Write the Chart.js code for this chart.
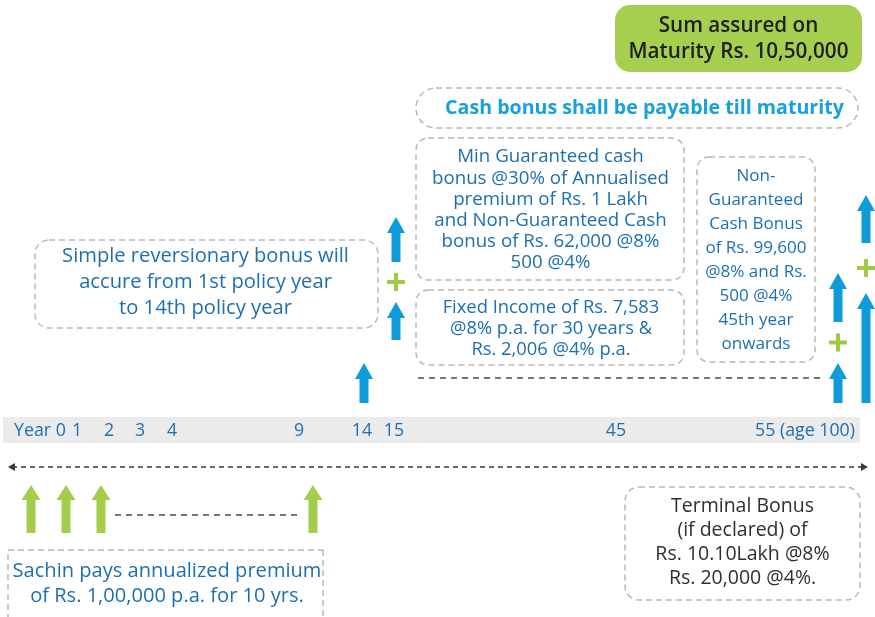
<!DOCTYPE html>
<html>
<head>
<meta charset="utf-8">
<script src="https://cdn.jsdelivr.net/npm/chart.js@4.4.0/dist/chart.umd.min.js"></script>
<style>
  html, body { margin: 0; padding: 0; background: #ffffff; }
  #wrap { width: 875px; height: 617px; position: relative; }
</style>
</head>
<body>
<div id="wrap"><canvas id="c" width="875" height="617"></canvas></div>
<script>
// ---------------- DATA ----------------
// Timeline tick labels (policy years)
const tickYears  = [0, 1, 2, 3, 4, 9, 14, 15, 45, 55];
const tickLabels = ['Year 0', '1', '2', '3', '4', '9', '14', '15', '45', '55 (age 100)'];

// Premium payments (green arrows), shown for years 0,1,2 ... 9
const premiumYears = [0, 1, 2, 9];
const premiumFrom  = [-11.6, -11.6, -11.6, -11.6];
const premiumTo    = [-6.8, -6.8, -6.8, -6.8];

// Cash benefits (blue arrows, first column)
const cashYears     = [14, 15, 55];
const cashLowerFrom = [1.4, 7.7, 1.4];
const cashLowerTo   = [5.4, 11.5, 5.4];
const cashUpperFrom = [null, 15.5, 9.5];
const cashUpperTo   = [null, 20.0, 14.4];

// Maturity benefits (blue arrows, second column)
const maturityYears     = [55];
const maturityLowerFrom = [1.4];
const maturityLowerTo   = [12.4];
const maturityUpperFrom = [17.4];
const maturityUpperTo   = [22.2];

// Dashed continuation lines
const premiumGapYears = [2, 9];
const premiumGapLevel = [-9.8, -9.8];
const cashRunYears    = [15, 55];
const cashRunLevel    = [3.9, 3.9];

// Text of the call-outs
const sumAssuredText   = ['Sum assured on', 'Maturity Rs. 10,50,000'];
const cashTillText     = ['Cash bonus shall be payable till maturity'];
const minGuarText      = ['Min Guaranteed cash', 'bonus @30% of Annualised', 'premium of Rs. 1 Lakh', 'and Non-Guaranteed Cash', 'bonus of Rs. 62,000 @8%', '500 @4%'];
const fixedIncomeText  = ['Fixed Income of Rs. 7,583', '@8% p.a. for 30 years &', 'Rs. 2,006 @4% p.a.'];
const nonGuarText      = ['Non-', 'Guaranteed', 'Cash Bonus', 'of Rs. 99,600', '@8% and Rs.', '500 @4%', '45th year', 'onwards'];
const reversionaryText = ['Simple reversionary bonus will', 'accure from 1st policy year', 'to 14th policy year'];
const premiumText      = ['Sachin pays annualized premium', 'of Rs. 1,00,000 p.a. for 10 yrs.'];
const terminalText     = ['Terminal Bonus', '(if declared) of', 'Rs. 10.10Lakh @8%', 'Rs. 20,000 @4%.'];

// ---------------- STYLE / LAYOUT ----------------
const BLUE_TEXT = '#1d6fb3';
const CYAN = '#0d9cd9';
const GREEN = '#a5cd4c';
const FONT = '"Open Sans", Roboto, sans-serif';

// font size that makes `text` about `target` px wide
const measureCtx = document.createElement('canvas').getContext('2d');
function fitSize(text, target, weight) {
  measureCtx.font = (weight || 'normal') + ' 20px ' + FONT;
  return 20 * target / measureCtx.measureText(text).width;
}

// piecewise (not-to-scale) time axes: [year, pixel offset inside chart area]
const COLUMN_GAP = 28;
const BREAKS = {
  xt: [[0, 40], [1, 77], [2, 109], [3, 140], [4, 172], [9, 299], [14, 362], [15, 394], [45, 616], [55, 805]],
  x:  [[14, 364], [15, 396], [55, 838]],
  xp: [[0, 31], [1, 66], [2, 101], [9, 313]]
};
BREAKS.xm = BREAKS.x.map(([v, p]) => [v, p + COLUMN_GAP]);

class PiecewiseScale extends Chart.LinearScale {
  getPixelForValue(value) {
    if (value === null || value === undefined || isNaN(value)) return NaN;
    const b = BREAKS[this.id];
    let i = 0;
    while (i < b.length - 2 && value > b[i + 1][0]) i++;
    const [v0, p0] = b[i], [v1, p1] = b[i + 1];
    return this.left + p0 + (value - v0) * (p1 - p0) / (v1 - v0);
  }
  getValueForPixel(pixel) {
    const b = BREAKS[this.id];
    const p = pixel - this.left;
    let i = 0;
    while (i < b.length - 2 && p > b[i + 1][1]) i++;
    const [v0, p0] = b[i], [v1, p1] = b[i + 1];
    return v0 + (p - p0) * (v1 - v0) / (p1 - p0);
  }
}
PiecewiseScale.id = 'piecewise';
PiecewiseScale.defaults = {};
Chart.register(PiecewiseScale);

function ranged(years, from, to) {
  return years.map((x, i) => ({ x: x, y: (from[i] === null ? null : [from[i], to[i]]) }));
}
function pts(years, levels) {
  return years.map((x, i) => ({ x: x, y: levels[i] }));
}

// ---------------- DRAW HELPERS ----------------
function roundRect(ctx, x, y, w, h, r) {
  ctx.beginPath();
  ctx.moveTo(x + r, y);
  ctx.lineTo(x + w - r, y);
  ctx.arcTo(x + w, y, x + w, y + r, r);
  ctx.lineTo(x + w, y + h - r);
  ctx.arcTo(x + w, y + h, x + w - r, y + h, r);
  ctx.lineTo(x + r, y + h);
  ctx.arcTo(x, y + h, x, y + h - r, r);
  ctx.lineTo(x, y + r);
  ctx.arcTo(x, y, x + r, y, r);
  ctx.closePath();
}
function drawArrow(ctx, x, top, bottom, a) {
  ctx.fillStyle = a.color;
  ctx.beginPath();
  ctx.moveTo(x, top);
  ctx.lineTo(x + a.head / 2, top + a.headLen);
  ctx.lineTo(x + a.shaft / 2, top + a.headLen);
  ctx.lineTo(x + a.shaft / 2, bottom);
  ctx.lineTo(x - a.shaft / 2, bottom);
  ctx.lineTo(x - a.shaft / 2, top + a.headLen);
  ctx.lineTo(x - a.head / 2, top + a.headLen);
  ctx.closePath();
  ctx.fill();
}
function drawPlus(ctx, x, y) {
  ctx.save();
  ctx.strokeStyle = '#9fca44';
  ctx.lineWidth = 4;
  ctx.beginPath();
  ctx.moveTo(x - 9, y); ctx.lineTo(x + 9, y);
  ctx.moveTo(x, y - 9); ctx.lineTo(x, y + 9);
  ctx.stroke();
  ctx.restore();
}
function drawLines(ctx, lines, cx, y0, lh, weight, size, color) {
  ctx.save();
  ctx.font = weight + ' ' + size.toFixed(2) + 'px ' + FONT;
  ctx.fillStyle = color;
  ctx.textAlign = 'center';
  ctx.textBaseline = 'middle';
  lines.forEach((t, i) => ctx.fillText(t, cx, y0 + i * lh));
  ctx.restore();
}
function dashedBox(ctx, x, y, w, h, r) {
  ctx.save();
  ctx.strokeStyle = '#b9b9b9';
  ctx.lineWidth = 1.5;
  ctx.setLineDash([6, 4]);
  roundRect(ctx, x, y, w, h, r);
  ctx.stroke();
  ctx.restore();
}

// ---------------- PLUGIN ----------------
const infographic = {
  id: 'infographic',
  beforeDraw(chart) {
    const ctx = chart.ctx;
    const top = chart.scales.y.getPixelForValue(0);
    ctx.save();
    ctx.fillStyle = '#ebebeb';
    ctx.fillRect(3, top, 857, 26);
    ctx.restore();
  },
  afterDatasetsDraw(chart) {
    const ctx = chart.ctx;
    const ys = chart.scales.y;
    ctx.save();
    // timeline double arrow
    const ty = ys.getPixelForValue(-5.0);
    ctx.strokeStyle = '#3a3a3a';
    ctx.lineWidth = 1.3;
    ctx.setLineDash([5, 4]);
    ctx.beginPath(); ctx.moveTo(12, ty); ctx.lineTo(864, ty); ctx.stroke();
    ctx.setLineDash([]);
    ctx.fillStyle = '#3a3a3a';
    ctx.beginPath(); ctx.moveTo(8, ty); ctx.lineTo(15, ty - 4); ctx.lineTo(15, ty + 4); ctx.closePath(); ctx.fill();
    ctx.beginPath(); ctx.moveTo(868, ty); ctx.lineTo(861, ty - 4); ctx.lineTo(861, ty + 4); ctx.closePath(); ctx.fill();
    ctx.restore();

    // dashed connectors
    chart.data.datasets.forEach((ds, di) => {
      if (!ds.connector) return;
      const meta = chart.getDatasetMeta(di);
      const a = meta.data[0], b = meta.data[1];
      ctx.save();
      ctx.strokeStyle = '#4a4a4a';
      ctx.lineWidth = 1.3;
      ctx.setLineDash([6, 5]);
      ctx.beginPath();
      ctx.moveTo(a.x + ds.connector[0], a.y);
      ctx.lineTo(b.x - ds.connector[1], b.y);
      ctx.stroke();
      ctx.restore();
    });
    // arrows from the bar elements
    chart.data.datasets.forEach((ds, di) => {
      if (!ds.arrow) return;
      const meta = chart.getDatasetMeta(di);
      meta.data.forEach((el, i) => {
        const raw = ds.data[i];
        if (!raw || raw.y === null) return;
        const top = Math.min(el.y, el.base), bottom = Math.max(el.y, el.base);
        drawArrow(ctx, el.x, top, bottom, ds.arrow);
      });
    });
    // plus signs between stacked arrows of the same column
    [['cashLower', 'cashUpper'], ['maturityLower', 'maturityUpper']].forEach(([lo, up]) => {
      const li = chart.data.datasets.findIndex(d => d.key === lo);
      const ui = chart.data.datasets.findIndex(d => d.key === up);
      const lm = chart.getDatasetMeta(li), um = chart.getDatasetMeta(ui);
      chart.data.datasets[ui].data.forEach((raw, i) => {
        if (raw.y === null || chart.data.datasets[li].data[i].y === null) return;
        const l = lm.data[i], u = um.data[i];
        const lTop = Math.min(l.y, l.base), uBot = Math.max(u.y, u.base);
        drawPlus(ctx, (l.x + u.x) / 2, (lTop + uBot) / 2);
      });
    });
  },
  afterDraw(chart) {
    const ctx = chart.ctx;
    // Sum assured (green filled)
    ctx.save();
    ctx.fillStyle = '#a6cf50';
    roundRect(ctx, 615, 5, 247, 67, 15);
    ctx.fill();
    ctx.restore();
    drawLines(ctx, sumAssuredText, 738.5, 26, 26, '600', fitSize(sumAssuredText[1], 220, '600'), '#1e1e1e');

    dashedBox(ctx, 416, 88, 442, 40, 20);
    drawLines(ctx, cashTillText, 644.5, 108, 0, 'bold', fitSize(cashTillText[0], 399, 'bold'), '#17a0dc');

    dashedBox(ctx, 416, 138, 268, 142, 12);
    drawLines(ctx, minGuarText, 550.5, 157, 21.2, 'normal', fitSize(minGuarText[1], 237), BLUE_TEXT);

    dashedBox(ctx, 416, 290, 268, 75, 12);
    drawLines(ctx, fixedIncomeText, 551, 308, 21, 'normal', fitSize(fixedIncomeText[0], 217), BLUE_TEXT);

    dashedBox(ctx, 697, 157, 118, 205, 12);
    drawLines(ctx, nonGuarText, 756, 176, 24, 'normal', fitSize(nonGuarText[1], 95), BLUE_TEXT);

    dashedBox(ctx, 35, 240, 343, 88, 14);
    drawLines(ctx, reversionaryText, 205.5, 256, 26, 'normal', fitSize(reversionaryText[0], 287), BLUE_TEXT);

    dashedBox(ctx, 8, 550, 315, 90, 0);
    drawLines(ctx, premiumText, 167, 571, 25.5, 'normal', fitSize(premiumText[0], 309), BLUE_TEXT);

    dashedBox(ctx, 625, 487, 235, 113, 14);
    drawLines(ctx, terminalText, 742.5, 506, 24, 'normal', fitSize(terminalText[0], 143), '#2f2f2f');
  }
};

const blueArrow = { shaft: 9, head: 18, headLen: 16, color: CYAN };
const greenArrow = { shaft: 9, head: 19, headLen: 15, color: GREEN };
const clear = 'rgba(0,0,0,0)';
const tickSize = fitSize(tickLabels[tickLabels.length - 1], 100);

new Chart(document.getElementById('c'), {
  type: 'bar',
  data: {
    datasets: [
      { key: 'cashRun', type: 'line', xAxisID: 'x', data: pts(cashRunYears, cashRunLevel), showLine: false, pointRadius: 0, connector: [22, 16] },
      { key: 'premiumGap', type: 'line', xAxisID: 'xp', data: pts(premiumGapYears, premiumGapLevel), showLine: false, pointRadius: 0, connector: [14, 11] },
      { key: 'premium', xAxisID: 'xp', data: ranged(premiumYears, premiumFrom, premiumTo), grouped: false, barThickness: 19, backgroundColor: clear, arrow: greenArrow },
      { key: 'cashLower', xAxisID: 'x', data: ranged(cashYears, cashLowerFrom, cashLowerTo), grouped: false, barThickness: 18, backgroundColor: clear, arrow: blueArrow },
      { key: 'cashUpper', xAxisID: 'x', data: ranged(cashYears, cashUpperFrom, cashUpperTo), grouped: false, barThickness: 18, backgroundColor: clear, arrow: blueArrow },
      { key: 'maturityLower', xAxisID: 'xm', data: ranged(maturityYears, maturityLowerFrom, maturityLowerTo), grouped: false, barThickness: 18, backgroundColor: clear, arrow: blueArrow },
      { key: 'maturityUpper', xAxisID: 'xm', data: ranged(maturityYears, maturityUpperFrom, maturityUpperTo), grouped: false, barThickness: 18, backgroundColor: clear, arrow: blueArrow }
    ]
  },
  options: {
    responsive: false,
    animation: false,
    events: [],
    layout: { padding: 0 },
    plugins: { legend: { display: false }, tooltip: { enabled: false }, title: { display: false } },
    scales: {
      y: { type: 'linear', display: false, min: -20, max: 41.7 },
      x: { type: 'piecewise', display: false, min: 0, max: 55 },
      xm: { type: 'piecewise', display: false, min: 0, max: 55 },
      xp: { type: 'piecewise', display: false, min: 0, max: 55 },
      xt: {
        type: 'piecewise', display: true, min: 0, max: 55,
        position: { y: 0 },
        grid: { display: false, drawTicks: false },
        border: { display: false },
        afterBuildTicks: (scale) => { scale.ticks = tickYears.map(v => ({ value: v })); },
        ticks: {
          autoSkip: false, maxRotation: 0, minRotation: 0, padding: 3,
          color: BLUE_TEXT,
          font: { family: FONT, size: tickSize },
          callback: (v) => tickLabels[tickYears.indexOf(v)]
        }
      }
    }
  },
  plugins: [infographic]
});
</script>
</body>
</html>
